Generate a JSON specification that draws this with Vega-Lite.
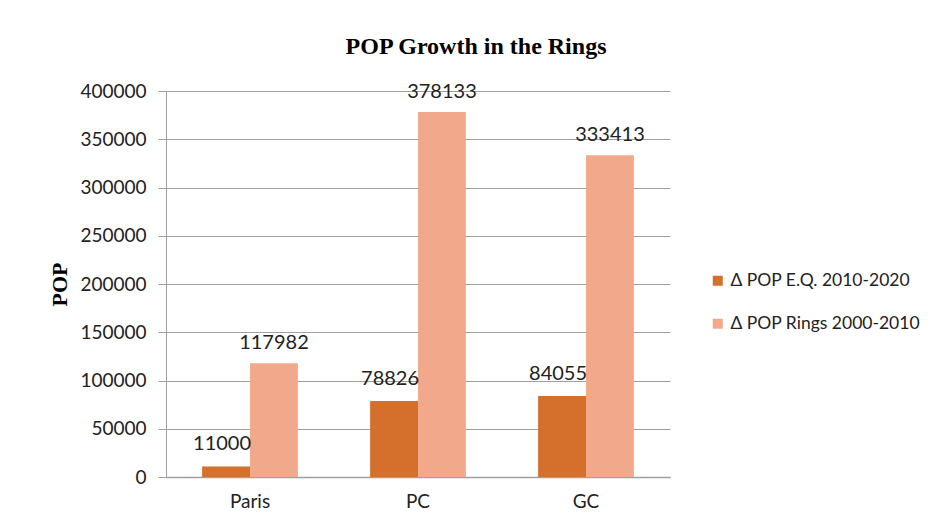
{
  "$schema": "https://vega.github.io/schema/vega-lite/v6.json",
  "autosize": "none",
  "padding": {"left": 166, "top": 91, "right": 263, "bottom": 51},
  "width": 504,
  "height": 386,
  "background": "white",
  "title": {
    "text": "POP Growth in the Rings",
    "font": "Liberation Serif",
    "fontSize": 24,
    "fontWeight": "bold",
    "color": "#000000",
    "anchor": "middle",
    "frame": "group",
    "baseline": "alphabetic",
    "offset": 38,
    "dx": 58,
    "dy": 34
  },
  "data": {
    "values": [
      {"region": "Paris", "series": "Δ POP E.Q. 2010-2020", "pop": 11000},
      {"region": "Paris", "series": "Δ POP Rings 2000-2010", "pop": 117982},
      {"region": "PC", "series": "Δ POP E.Q. 2010-2020", "pop": 78826},
      {"region": "PC", "series": "Δ POP Rings 2000-2010", "pop": 378133},
      {"region": "GC", "series": "Δ POP E.Q. 2010-2020", "pop": 84055},
      {"region": "GC", "series": "Δ POP Rings 2000-2010", "pop": 333413}
    ]
  },
  "encoding": {
    "x": {
      "field": "region",
      "type": "nominal",
      "sort": ["Paris", "PC", "GC"],
      "scale": {"paddingInner": 0.43, "paddingOuter": 0.215},
      "axis": {
        "title": null,
        "labelAngle": 0,
        "labelFont": "Lato",
        "labelFontSize": 19,
        "labelColor": "#222222",
        "labelPadding": 15,
        "ticks": false,
        "domainColor": "#A0A0A0",
        "domainWidth": 1.5
      }
    },
    "xOffset": {
      "field": "series",
      "type": "nominal",
      "sort": ["Δ POP E.Q. 2010-2020", "Δ POP Rings 2000-2010"],
      "scale": {"paddingInner": 0, "paddingOuter": 0}
    },
    "y": {
      "field": "pop",
      "type": "quantitative",
      "scale": {"domain": [0, 400000], "nice": false},
      "axis": {
        "title": "POP",
        "titleFont": "Liberation Serif",
        "titleFontSize": 22,
        "titleFontWeight": "bold",
        "titleColor": "#000000",
        "titleAngle": -90,
        "titleBaseline": "alphabetic",
        "titleAlign": "center",
        "titleX": -100,
        "titleY": 193,
        "values": [0, 50000, 100000, 150000, 200000, 250000, 300000, 350000, 400000],
        "format": "d",
        "labelFont": "Lato",
        "labelFontSize": 19,
        "labelColor": "#222222",
        "labelPadding": 12,
        "tickSize": 8,
        "tickColor": "#A0A0A0",
        "domainColor": "#A0A0A0",
        "gridColor": "#A0A0A0",
        "gridWidth": 1
      }
    }
  },
  "layer": [
    {
      "mark": {"type": "bar"},
      "encoding": {
        "color": {
          "field": "series",
          "type": "nominal",
          "sort": ["Δ POP E.Q. 2010-2020", "Δ POP Rings 2000-2010"],
          "scale": {"range": ["#D46F2C", "#F2A88A"]},
          "legend": {
            "title": null,
            "orient": "none",
            "legendX": 543,
            "legendY": 181,
            "padding": 0,
            "symbolType": "square",
            "symbolSize": 100,
            "symbolStrokeWidth": 0,
            "labelFont": "Lato",
            "labelFontSize": 17.5,
            "labelColor": "#222222",
            "labelOffset": 4,
            "rowPadding": 24,
            "labelLimit": 300
          }
        }
      }
    },
    {
      "transform": [{"filter": "datum.series == 'Δ POP E.Q. 2010-2020'"}],
      "mark": {"type": "text", "font": "Lato", "fontSize": 20, "color": "#222222", "baseline": "alphabetic", "dy": -16, "dx": -4},
      "encoding": {"text": {"field": "pop", "type": "quantitative", "format": "d"}}
    },
    {
      "transform": [{"filter": "datum.series == 'Δ POP Rings 2000-2010'"}],
      "mark": {"type": "text", "font": "Lato", "fontSize": 20, "color": "#222222", "baseline": "alphabetic", "dy": -14},
      "encoding": {"text": {"field": "pop", "type": "quantitative", "format": "d"}}
    }
  ],
  "config": {
    "view": {"stroke": null}
  }
}
